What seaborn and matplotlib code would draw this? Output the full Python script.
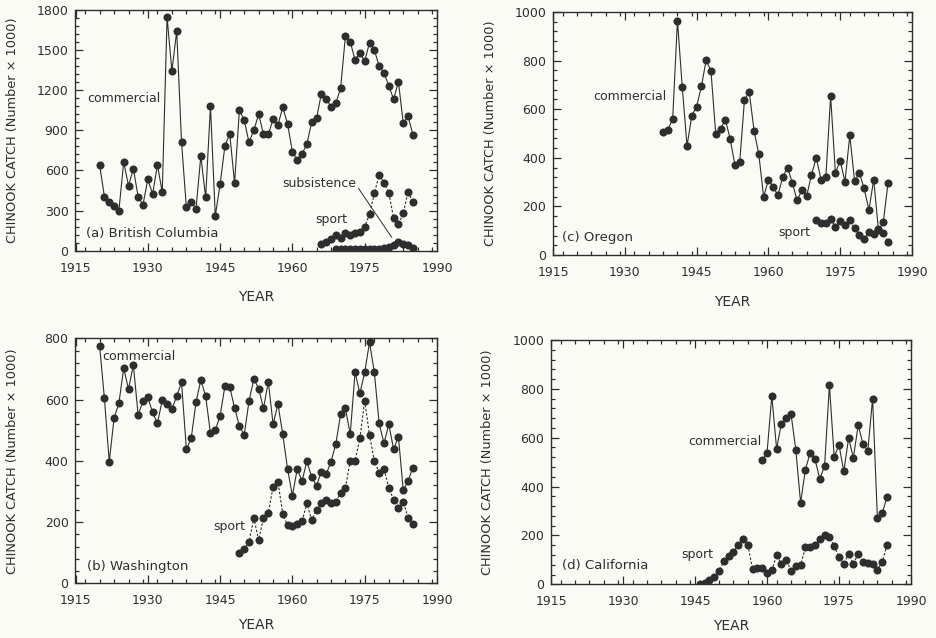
import numpy as np
import pandas as pd
import matplotlib
matplotlib.use("Agg")
import matplotlib.pyplot as plt
from matplotlib.ticker import MultipleLocator
import seaborn as sns

# ---------------- data (catch, thousands of fish) ----------------
bc_comm_years = list(range(1920, 1986))
bc_comm = [643, 404, 366, 337, 299, 663, 486, 613, 404, 344,
           533, 424, 641, 436, 1745, 1344, 1643, 810, 324, 364,
           314, 708, 399, 1082, 259, 496, 783, 875, 504, 1050,
           977, 810, 902, 1020, 870, 870, 982, 940, 1072, 947,
           740, 678, 723, 798, 960, 990, 1172, 1134, 1077, 1102,
           1214, 1605, 1563, 1426, 1481, 1419, 1556, 1501, 1381, 1331,
           1234, 1132, 1264, 952, 1005, 868]
bc_sport_years = list(range(1966, 1986))
bc_sport = [50, 62, 85, 117, 97, 130, 117, 135, 137, 180,
            272, 429, 566, 509, 434, 242, 197, 279, 441, 361]
bc_subs_years = list(range(1969, 1986))
bc_subs = [10, 10, 12, 10, 12, 10, 12, 10, 12, 15,
           17, 25, 42, 62, 50, 45, 17]

wa_comm_years = list(range(1920, 1986))
wa_comm = [776, 604, 397, 539, 588, 702, 634, 713, 549, 595,
           607, 558, 523, 598, 585, 568, 611, 656, 438, 473,
           591, 664, 611, 490, 500, 547, 644, 641, 573, 514,
           484, 595, 667, 636, 571, 658, 519, 586, 486, 373,
           286, 373, 334, 399, 347, 319, 364, 356, 397, 454,
           552, 571, 487, 689, 620, 689, 787, 689, 522, 457,
           519, 438, 478, 304, 334, 378]
wa_sport_years = list(range(1949, 1986))
wa_sport = [98, 112, 136, 212, 141, 214, 228, 316, 332, 225,
            190, 186, 194, 203, 261, 207, 239, 263, 272, 261,
            267, 294, 312, 400, 400, 473, 596, 484, 399, 361,
            373, 312, 272, 247, 267, 214, 195]

or_comm_years = list(range(1938, 1986))
or_comm = [508, 516, 559, 965, 692, 449, 573, 611, 694, 802,
           757, 499, 519, 557, 479, 371, 381, 638, 670, 512,
           414, 239, 310, 279, 247, 321, 360, 297, 225, 266,
           243, 330, 400, 310, 319, 654, 337, 388, 301, 492,
           306, 337, 274, 185, 310, 101, 135, 297]
or_sport_years = list(range(1970, 1986))
or_sport = [142, 131, 131, 148, 117, 139, 125, 144, 110, 84,
            66, 94, 88, 106, 90, 53]

ca_comm_years = list(range(1959, 1986))
ca_comm = [508, 537, 771, 555, 658, 681, 698, 550, 334, 469,
           539, 512, 431, 485, 814, 522, 570, 462, 598, 518,
           652, 574, 546, 760, 270, 290, 357]
ca_sport_years = list(range(1946, 1986))
ca_sport = [3, 7, 16, 30, 54, 94, 115, 132, 162, 185,
            162, 61, 65, 67, 47, 57, 119, 84, 101, 54,
            74, 78, 151, 151, 162, 186, 200, 195, 155, 111,
            84, 124, 84, 124, 90, 88, 84, 57, 92, 159]

year_ticks = [1915, 1930, 1945, 1960, 1975, 1990]

# ---------------- style ----------------
sns.set_style("ticks")
plt.rcParams["font.family"] = ["DejaVu Sans"]
INK = "#2e2e2e"
BG = "#fbfbf6"

W, H = 937, 638
fig = plt.figure(figsize=(W / 100, H / 100), dpi=100, facecolor=BG)


def px_axes(left, top, right, bottom):
    return fig.add_axes([left / W, 1 - bottom / H, (right - left) / W, (bottom - top) / H])


def draw(ax, years, vals, dashed=False):
    df = pd.DataFrame({"year": years, "catch": vals})
    sns.lineplot(data=df, x="year", y="catch", ax=ax, color=INK, linewidth=0.8,
                 marker="o", markersize=5.8, markeredgewidth=0, markerfacecolor=INK,
                 linestyle=(0, (2.2, 1.6)) if dashed else "-", legend=False)


def style(ax, ymax, ymajor, yminor, xlab_y):
    ax.set_facecolor(BG)
    ax.set_xlim(1915, 1990)
    ax.set_ylim(0, ymax)
    ax.set_xticks(year_ticks)
    ax.set_xticklabels([str(y) for y in year_ticks])
    ax.set_yticks(np.arange(0, ymax + 1, ymajor))
    ax.xaxis.set_minor_locator(MultipleLocator(3))
    ax.yaxis.set_minor_locator(MultipleLocator(yminor))
    ax.tick_params(which="both", direction="in", top=True, right=True, colors=INK,
                   labelsize=9, width=0.9)
    ax.tick_params(which="major", length=6)
    ax.tick_params(which="minor", length=3)
    ax.tick_params(axis="x", which="major", pad=8)
    ax.tick_params(axis="y", which="major", pad=5)
    for s in ax.spines.values():
        s.set_color(INK)
        s.set_linewidth(1.0)
    ax.set_xlabel("YEAR", fontsize=10, color=INK)
    ax.set_ylabel("CHINOOK CATCH (Number \u00d7 1000)", fontsize=9.3, color=INK)
    ax.xaxis.set_label_coords(0.5, xlab_y)
    ax.yaxis.set_label_coords(-0.157, 0.5)


TXT = dict(fontsize=9, color=INK, ha="left", va="center")

# (a) British Columbia
ax = px_axes(75.5, 10, 437, 250.7)
draw(ax, bc_comm_years, bc_comm)
draw(ax, bc_sport_years, bc_sport, dashed=True)
draw(ax, bc_subs_years, bc_subs)
style(ax, 1800, 300, 60, -0.165)
ax.text(1917.4, 1135, "commercial", **TXT)
ax.text(1917.2, 125, "(a) British Columbia", fontsize=9.5, color=INK, ha="left", va="center")
ax.text(1958.0, 499, "subsistence", **TXT)
ax.plot([1973.7, 1980.6], [467, 100], color=INK, linewidth=0.7)
ax.text(1964.7, 230, "sport", **TXT)

# (b) Washington
ax = px_axes(75.5, 338.3, 437, 583.3)
draw(ax, wa_comm_years, wa_comm)
draw(ax, wa_sport_years, wa_sport, dashed=True)
style(ax, 800, 200, 40, -0.143)
ax.text(1920.5, 739, "commercial", **TXT)
ax.text(1917.4, 56, "(b) Washington", fontsize=9.5, color=INK, ha="left", va="center")
ax.text(1943.5, 184, "sport", **TXT)

# (c) Oregon
ax = px_axes(553, 12, 912, 255)
draw(ax, or_comm_years, or_comm)
draw(ax, or_sport_years, or_sport, dashed=True)
style(ax, 1000, 200, 40, -0.165)
ax.text(1923.4, 654, "commercial", **TXT)
ax.text(1916.9, 74, "(c) Oregon", fontsize=9.5, color=INK, ha="left", va="center")
ax.text(1962.1, 91, "sport", **TXT)

# (d) California
ax = px_axes(551, 340, 911, 584.3)
draw(ax, ca_comm_years, ca_comm)
draw(ax, ca_sport_years, ca_sport, dashed=True)
style(ax, 1000, 200, 40, -0.143)
ax.text(1943.5, 584, "commercial", **TXT)
ax.text(1942.2, 120, "sport", **TXT)
ax.text(1917.3, 75, "(d) California", fontsize=9.5, color=INK, ha="left", va="center")

fig.savefig("out.png", dpi=100, facecolor=BG)
